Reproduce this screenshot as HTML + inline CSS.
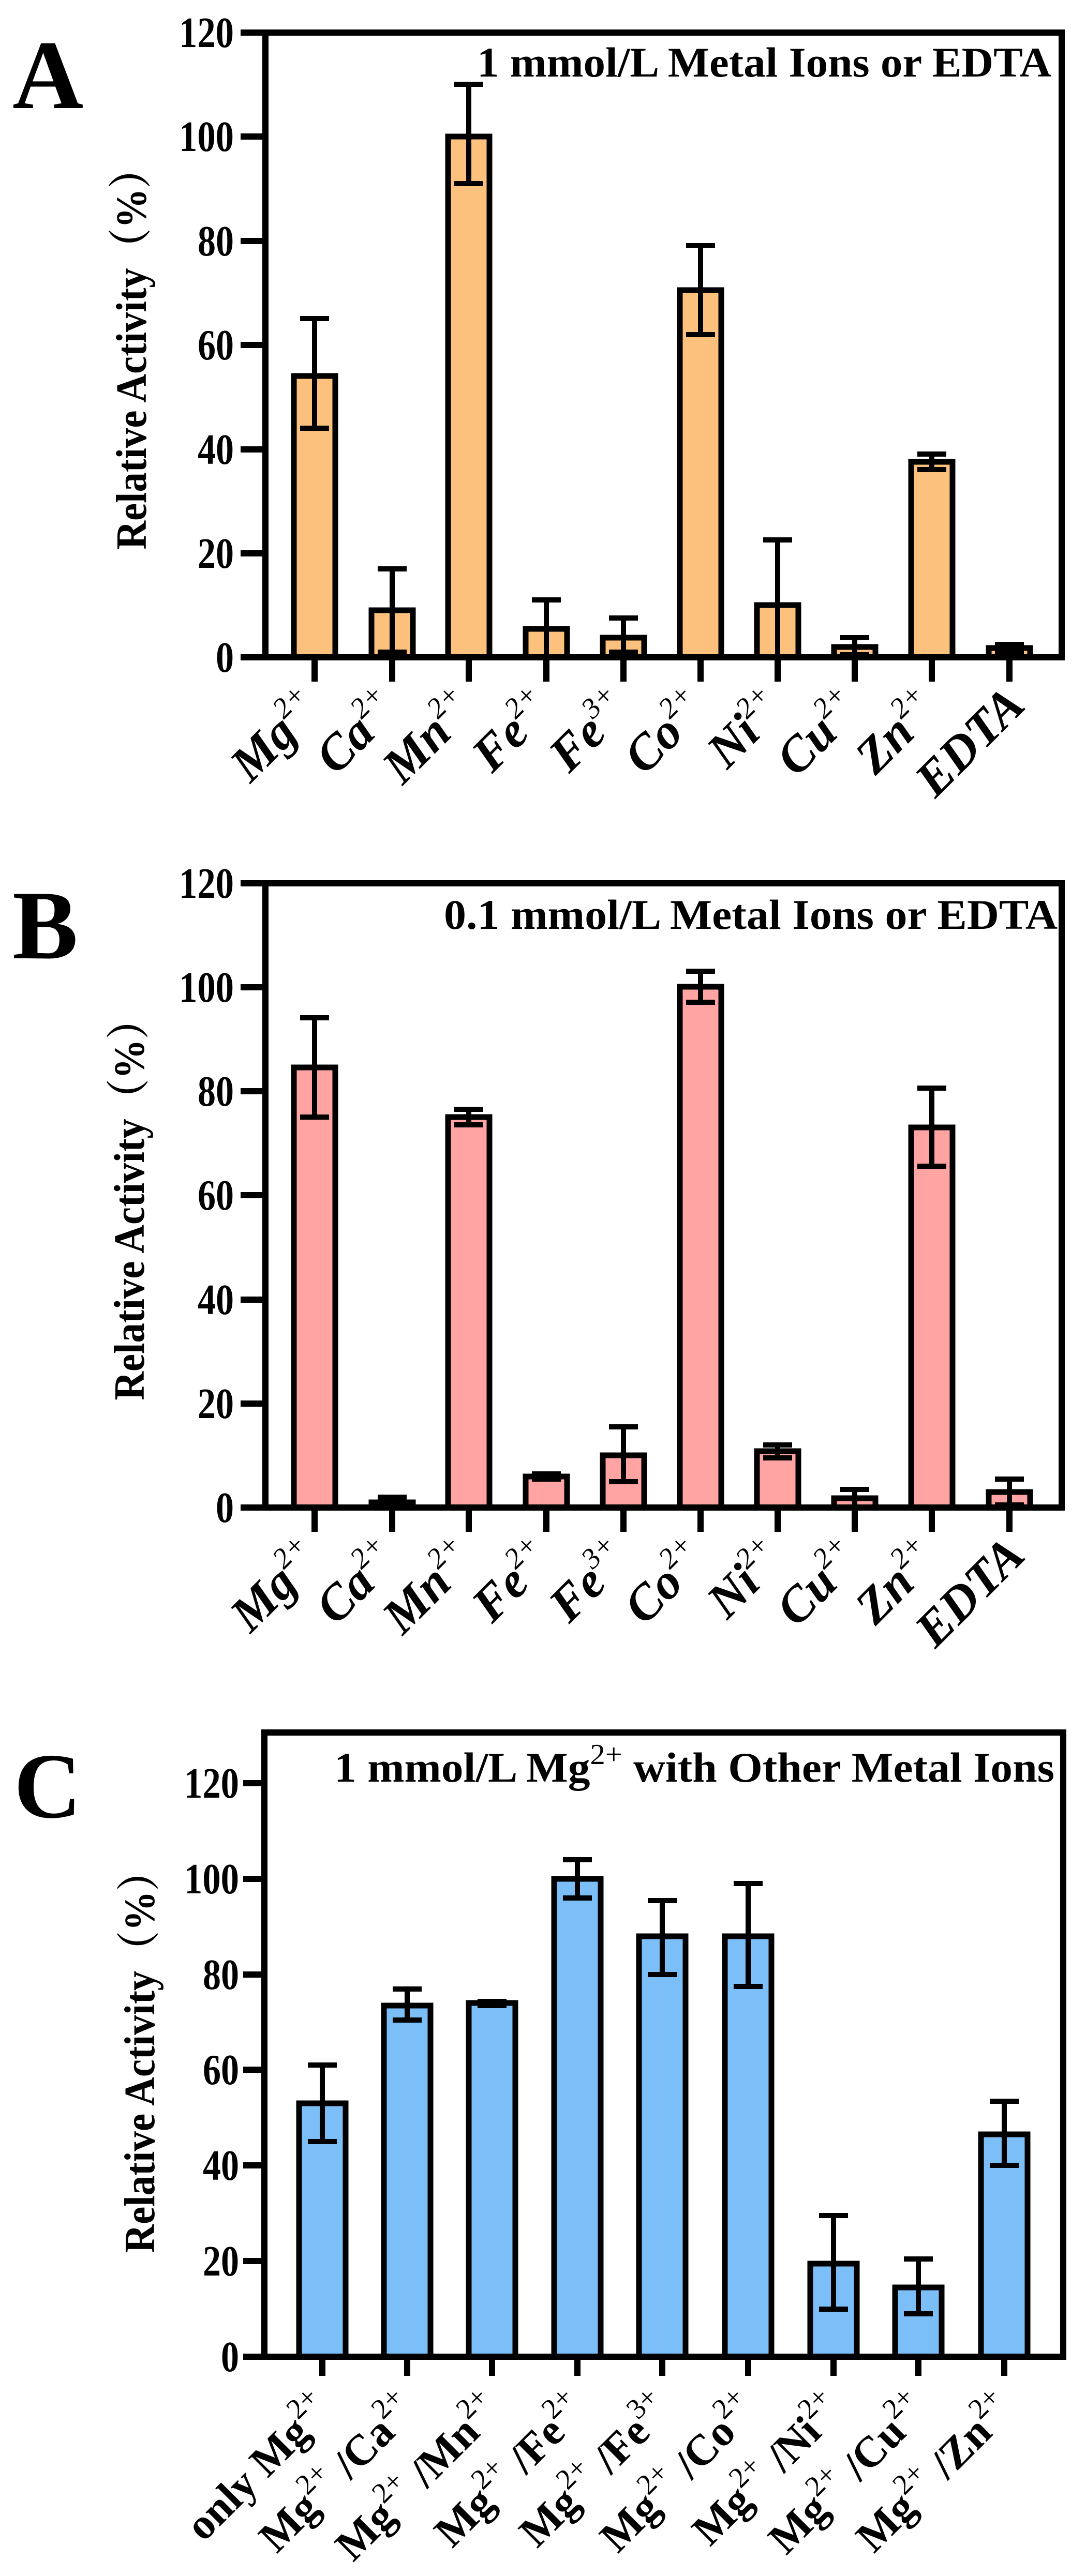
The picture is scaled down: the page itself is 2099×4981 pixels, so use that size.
<!DOCTYPE html>
<html><head><meta charset="utf-8"><style>
html,body{margin:0;padding:0;background:#fff;}
svg{display:block;}
text{font-family:"Liberation Serif","Noto Serif CJK SC",serif;font-weight:bold;fill:#000;}
.t{font-size:82px;}
.n{font-size:84px;}
.sup{font-weight:normal;font-size:56px;}
.xl{font-size:96px;font-style:italic;}
.xc{font-size:84px;}
</style></head><body>
<svg width="2099" height="4981" viewBox="0 0 2099 4981" xmlns="http://www.w3.org/2000/svg">
<!-- ================= PANEL A ================= -->
<text x="24" y="209" style="font-size:190px">A</text>
<text x="922" y="148" class="t" textLength="1110" lengthAdjust="spacingAndGlyphs">1 mmol/L Metal Ions or EDTA</text>
<text transform="translate(282,675) rotate(-90)" text-anchor="middle" style="font-size:84px" textLength="775" lengthAdjust="spacingAndGlyphs">Relative Activity（%）</text>
<g fill="#FDC17E" stroke="#000" stroke-width="11">
<rect x="568" y="727" width="80" height="544"/>
<rect x="718" y="1180" width="80" height="91"/>
<rect x="866" y="264" width="80" height="1007"/>
<rect x="1016" y="1216" width="80" height="55"/>
<rect x="1165" y="1233" width="80" height="38"/>
<rect x="1314" y="561" width="80" height="710"/>
<rect x="1463" y="1170" width="80" height="101"/>
<rect x="1612" y="1251" width="80" height="20"/>
<rect x="1761" y="893" width="80" height="378"/>
<rect x="1911" y="1253" width="80" height="18"/>
</g>
<g stroke="#000" stroke-width="10" fill="none">
<path d="M608 828V616M580 828H636M580 616H636"/>
<path d="M758 1261V1100M730 1261H786M730 1100H786"/>
<path d="M906 355V163M878 355H934M878 163H934"/>
<path d="M1056 1271V1160M1028 1160H1084"/>
<path d="M1205 1261V1195M1177 1261H1233M1177 1195H1233"/>
<path d="M1354 647V475M1326 647H1382M1326 475H1382"/>
<path d="M1503 1271V1044M1475 1044H1531"/>
<path d="M1652 1266V1233M1624 1266H1680M1624 1233H1680"/>
<path d="M1801 908V878M1773 908H1829M1773 878H1829"/>
<path d="M1951 1261V1246M1923 1261H1979M1923 1246H1979"/>
</g>
<g stroke="#000" stroke-width="12" fill="none">
<rect x="513" y="63" width="1539" height="1208"/>
<path d="M465 63H513M465 264H513M465 466H513M465 667H513M465 869H513M465 1070H513M465 1271H513"/>
<path d="M608 1271V1318M758 1271V1318M906 1271V1318M1056 1271V1318M1205 1271V1318M1354 1271V1318M1503 1271V1318M1652 1271V1318M1801 1271V1318M1951 1271V1318"/>
</g>
<g class="n" text-anchor="end">
<text x="452" y="91" textLength="106" lengthAdjust="spacingAndGlyphs">120</text><text x="452" y="292" textLength="106" lengthAdjust="spacingAndGlyphs">100</text><text x="452" y="494" textLength="70" lengthAdjust="spacingAndGlyphs">80</text><text x="452" y="695" textLength="70" lengthAdjust="spacingAndGlyphs">60</text><text x="452" y="897" textLength="70" lengthAdjust="spacingAndGlyphs">40</text><text x="452" y="1098" textLength="70" lengthAdjust="spacingAndGlyphs">20</text><text x="452" y="1299" textLength="35" lengthAdjust="spacingAndGlyphs">0</text>
</g>
<g class="xl" text-anchor="end">
<text transform="translate(625,1375) rotate(-45)">Mg<tspan class="sup" dy="-42">2+</tspan></text>
<text transform="translate(775,1375) rotate(-45)">Ca<tspan class="sup" dy="-42">2+</tspan></text>
<text transform="translate(923,1375) rotate(-45)">Mn<tspan class="sup" dy="-42">2+</tspan></text>
<text transform="translate(1073,1375) rotate(-45)">Fe<tspan class="sup" dy="-42">2+</tspan></text>
<text transform="translate(1222,1375) rotate(-45)">Fe<tspan class="sup" dy="-42">3+</tspan></text>
<text transform="translate(1371,1375) rotate(-45)">Co<tspan class="sup" dy="-42">2+</tspan></text>
<text transform="translate(1520,1375) rotate(-45)">Ni<tspan class="sup" dy="-42">2+</tspan></text>
<text transform="translate(1669,1375) rotate(-45)">Cu<tspan class="sup" dy="-42">2+</tspan></text>
<text transform="translate(1818,1375) rotate(-45)">Zn<tspan class="sup" dy="-42">2+</tspan></text>
<text transform="translate(1985,1368) rotate(-45)">EDTA</text>
</g>

<!-- ================= PANEL B ================= -->
<text x="24" y="1853" style="font-size:190px">B</text>
<text x="858" y="1796" class="t" textLength="1186" lengthAdjust="spacingAndGlyphs">0.1 mmol/L Metal Ions or EDTA</text>
<text transform="translate(278,2320) rotate(-90)" text-anchor="middle" style="font-size:84px" textLength="775" lengthAdjust="spacingAndGlyphs">Relative Activity（%）</text>
<g fill="#FFA3A3" stroke="#000" stroke-width="11">
<rect x="568" y="2064" width="80" height="851"/>
<rect x="718" y="2905" width="80" height="10"/>
<rect x="866" y="2160" width="80" height="755"/>
<rect x="1016" y="2855" width="80" height="60"/>
<rect x="1165" y="2814" width="80" height="101"/>
<rect x="1314" y="1908" width="80" height="1007"/>
<rect x="1463" y="2806" width="80" height="109"/>
<rect x="1612" y="2897" width="80" height="18"/>
<rect x="1761" y="2180" width="80" height="735"/>
<rect x="1911" y="2885" width="80" height="30"/>
</g>
<g stroke="#000" stroke-width="10" fill="none">
<path d="M608 2160V1968M580 2160H636M580 1968H636"/>
<path d="M758 2915V2895M730 2895H786"/>
<path d="M906 2175V2145M878 2175H934M878 2145H934"/>
<path d="M1056 2860V2850M1028 2860H1084M1028 2850H1084"/>
<path d="M1205 2865V2759M1177 2865H1233M1177 2759H1233"/>
<path d="M1354 1938V1878M1326 1938H1382M1326 1878H1382"/>
<path d="M1503 2819V2794M1475 2819H1531M1475 2794H1531"/>
<path d="M1652 2915V2880M1624 2880H1680"/>
<path d="M1801 2255V2104M1773 2255H1829M1773 2104H1829"/>
<path d="M1951 2910V2860M1923 2910H1979M1923 2860H1979"/>
</g>
<g stroke="#000" stroke-width="12" fill="none">
<rect x="513" y="1708" width="1539" height="1207"/>
<path d="M465 1708H513M465 1909H513M465 2110H513M465 2311H513M465 2513H513M465 2714H513M465 2915H513"/>
<path d="M608 2915V2962M758 2915V2962M906 2915V2962M1056 2915V2962M1205 2915V2962M1354 2915V2962M1503 2915V2962M1652 2915V2962M1801 2915V2962M1951 2915V2962"/>
</g>
<g class="n" text-anchor="end">
<text x="452" y="1736" textLength="106" lengthAdjust="spacingAndGlyphs">120</text><text x="452" y="1937" textLength="106" lengthAdjust="spacingAndGlyphs">100</text><text x="452" y="2138" textLength="70" lengthAdjust="spacingAndGlyphs">80</text><text x="452" y="2339" textLength="70" lengthAdjust="spacingAndGlyphs">60</text><text x="452" y="2541" textLength="70" lengthAdjust="spacingAndGlyphs">40</text><text x="452" y="2742" textLength="70" lengthAdjust="spacingAndGlyphs">20</text><text x="452" y="2943" textLength="35" lengthAdjust="spacingAndGlyphs">0</text>
</g>
<g class="xl" text-anchor="end">
<text transform="translate(625,3019) rotate(-45)">Mg<tspan class="sup" dy="-42">2+</tspan></text>
<text transform="translate(775,3019) rotate(-45)">Ca<tspan class="sup" dy="-42">2+</tspan></text>
<text transform="translate(923,3019) rotate(-45)">Mn<tspan class="sup" dy="-42">2+</tspan></text>
<text transform="translate(1073,3019) rotate(-45)">Fe<tspan class="sup" dy="-42">2+</tspan></text>
<text transform="translate(1222,3019) rotate(-45)">Fe<tspan class="sup" dy="-42">3+</tspan></text>
<text transform="translate(1371,3019) rotate(-45)">Co<tspan class="sup" dy="-42">2+</tspan></text>
<text transform="translate(1520,3019) rotate(-45)">Ni<tspan class="sup" dy="-42">2+</tspan></text>
<text transform="translate(1669,3019) rotate(-45)">Cu<tspan class="sup" dy="-42">2+</tspan></text>
<text transform="translate(1818,3019) rotate(-45)">Zn<tspan class="sup" dy="-42">2+</tspan></text>
<text transform="translate(1985,3012) rotate(-45)">EDTA</text>
</g>

<!-- ================= PANEL C ================= -->
<text x="27" y="3514" style="font-size:180px">C</text>
<text x="646" y="3445" class="t" textLength="1392" lengthAdjust="spacingAndGlyphs">1 mmol/L Mg<tspan class="sup" dy="-34">2+</tspan><tspan dy="34"> with Other Metal Ions</tspan></text>
<text transform="translate(298,3968) rotate(-90)" text-anchor="middle" style="font-size:84px" textLength="777" lengthAdjust="spacingAndGlyphs">Relative Activity（%）</text>
<g fill="#7BBEF8" stroke="#000" stroke-width="11">
<rect x="578" y="4067" width="90" height="490"/>
<rect x="742" y="3878" width="90" height="679"/>
<rect x="906" y="3873" width="90" height="684"/>
<rect x="1071" y="3633" width="90" height="924"/>
<rect x="1235" y="3744" width="90" height="813"/>
<rect x="1401" y="3744" width="90" height="813"/>
<rect x="1566" y="4377" width="90" height="180"/>
<rect x="1730" y="4423" width="90" height="134"/>
<rect x="1896" y="4127" width="90" height="430"/>
</g>
<g stroke="#000" stroke-width="10" fill="none">
<path d="M623 4141V3993M595 4141H651M595 3993H651"/>
<path d="M787 3906V3846M759 3906H815M759 3846H815"/>
<path d="M951 3878V3870M923 3878H979M923 3870H979"/>
<path d="M1116 3670V3596M1088 3670H1144M1088 3596H1144"/>
<path d="M1280 3818V3675M1252 3818H1308M1252 3675H1308"/>
<path d="M1446 3841V3642M1418 3841H1474M1418 3642H1474"/>
<path d="M1611 4465V4284M1583 4465H1639M1583 4284H1639"/>
<path d="M1775 4474V4368M1747 4474H1803M1747 4368H1803"/>
<path d="M1941 4187V4063M1913 4187H1969M1913 4063H1969"/>
</g>
<g stroke="#000" stroke-width="12" fill="none">
<rect x="511" y="3350" width="1544" height="1207"/>
<path d="M470 3448H511M470 3633H511M470 3818H511M470 4002H511M470 4187H511M470 4372H511M470 4557H511"/>
<path d="M623 4557V4594M787 4557V4594M951 4557V4594M1116 4557V4594M1280 4557V4594M1446 4557V4594M1611 4557V4594M1775 4557V4594M1941 4557V4594"/>
</g>
<g class="n" text-anchor="end">
<text x="462" y="3476" textLength="106" lengthAdjust="spacingAndGlyphs">120</text><text x="462" y="3661" textLength="106" lengthAdjust="spacingAndGlyphs">100</text><text x="462" y="3846" textLength="70" lengthAdjust="spacingAndGlyphs">80</text><text x="462" y="4030" textLength="70" lengthAdjust="spacingAndGlyphs">60</text><text x="462" y="4215" textLength="70" lengthAdjust="spacingAndGlyphs">40</text><text x="462" y="4400" textLength="70" lengthAdjust="spacingAndGlyphs">20</text><text x="462" y="4585" textLength="35" lengthAdjust="spacingAndGlyphs">0</text>
</g>
<g class="xc" text-anchor="end">
<text transform="translate(645,4665) rotate(-45)">only Mg<tspan class="sup" dy="-38">2+</tspan></text>
<text transform="translate(809,4665) rotate(-45)">Mg<tspan class="sup" dy="-38">2+</tspan><tspan dy="38"> /Ca</tspan><tspan class="sup" dy="-38">2+</tspan></text>
<text transform="translate(973,4665) rotate(-45)">Mg<tspan class="sup" dy="-38">2+</tspan><tspan dy="38"> /Mn</tspan><tspan class="sup" dy="-38">2+</tspan></text>
<text transform="translate(1138,4665) rotate(-45)">Mg<tspan class="sup" dy="-38">2+</tspan><tspan dy="38"> /Fe</tspan><tspan class="sup" dy="-38">2+</tspan></text>
<text transform="translate(1302,4665) rotate(-45)">Mg<tspan class="sup" dy="-38">2+</tspan><tspan dy="38"> /Fe</tspan><tspan class="sup" dy="-38">3+</tspan></text>
<text transform="translate(1468,4665) rotate(-45)">Mg<tspan class="sup" dy="-38">2+</tspan><tspan dy="38"> /Co</tspan><tspan class="sup" dy="-38">2+</tspan></text>
<text transform="translate(1633,4665) rotate(-45)">Mg<tspan class="sup" dy="-38">2+</tspan><tspan dy="38"> /Ni</tspan><tspan class="sup" dy="-38">2+</tspan></text>
<text transform="translate(1797,4665) rotate(-45)">Mg<tspan class="sup" dy="-38">2+</tspan><tspan dy="38"> /Cu</tspan><tspan class="sup" dy="-38">2+</tspan></text>
<text transform="translate(1963,4665) rotate(-45)">Mg<tspan class="sup" dy="-38">2+</tspan><tspan dy="38"> /Zn</tspan><tspan class="sup" dy="-38">2+</tspan></text>
</g>
</svg>
</body></html>
